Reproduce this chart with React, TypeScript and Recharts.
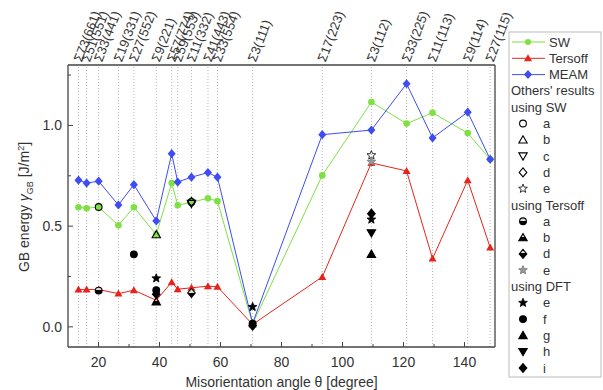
import React from 'react';
import { ComposedChart, Line, Scatter, XAxis, YAxis, ReferenceLine, Label } from 'recharts';

// GB misorientation angles (degree) and their CSL labels
const angles = [13.44, 16.1, 20.05, 26.53, 31.59, 38.94, 44.0, 45.98, 50.48, 55.88, 59.0, 70.53, 93.37, 109.47, 121.01, 129.52, 141.06, 148.41];
const gbLabels = ['Σ73(661)', 'Σ51(551)', 'Σ33(441)', 'Σ19(331)', 'Σ27(552)', 'Σ9(221)', 'Σ57(774)', 'Σ59(553)', 'Σ11(332)', 'Σ41(443)', 'Σ33(554)', 'Σ3(111)', 'Σ17(223)', 'Σ3(112)', 'Σ33(225)', 'Σ11(113)', 'Σ9(114)', 'Σ27(115)'];

// GB energies [J/m^2]
const swEnergy = [0.594, 0.589, 0.595, 0.504, 0.594, 0.458, 0.714, 0.604, 0.619, 0.638, 0.624, 0.015, 0.752, 1.116, 1.009, 1.063, 0.962, 0.832];
const tersoffEnergy = [0.185, 0.185, 0.185, 0.165, 0.182, 0.132, 0.222, 0.187, 0.194, 0.202, 0.199, 0.012, 0.248, 0.814, 0.774, 0.339, 0.728, 0.394];
const meamEnergy = [0.728, 0.714, 0.723, 0.605, 0.706, 0.526, 0.86, 0.719, 0.743, 0.766, 0.743, 0.018, 0.954, 0.977, 1.207, 0.938, 1.066, 0.832];

// others' results, [angle, energy]
const swA = [[20.05, 0.595], [50.48, 0.62]];
const swB = [[38.94, 0.458]];
const swC = [[50.48, 0.612]];
const swD = [[50.48, 0.62]];
const swE = [[109.47, 0.852]];
const terA = [[20.05, 0.18]];
const terB = [[38.94, 0.125]];
const terD = [[50.48, 0.168]];
const terE = [[109.47, 0.82]];
const dftE = [[38.94, 0.241], [70.53, 0.099], [109.47, 0.533]];
const dftF = [[31.59, 0.36], [38.94, 0.182], [70.53, 0.016]];
const dftG = [[109.47, 0.361]];
const dftH = [[109.47, 0.466]];
const dftI = [[38.94, 0.162], [70.53, 0.006], [109.47, 0.562]];

const xMajor = [20, 40, 60, 80, 100, 120, 140];
const xMinor = [30, 50, 70, 90, 110, 130];
const yMajor = [0, 0.5, 1.0];
const yMinor = [0.25, 0.75, 1.25];

const GREEN = '#7ee043';
const RED = '#e8231c';
const BLUE = '#3f4cf2';
const FONT = '"Liberation Sans", Arial, sans-serif';

const rows = angles.map((a, i) => ({ angle: a, sw: swEnergy[i], tersoff: tersoffEnergy[i], meam: meamEnergy[i] }));
const toPts = (arr) => arr.map(([a, v]) => ({ angle: a, val: v }));

const starPoints = (cx, cy, R, r) => {
  const pts = [];
  for (let k = 0; k < 10; k++) {
    const ang = -Math.PI / 2 + (k * Math.PI) / 5;
    const rad = k % 2 === 0 ? R : r;
    pts.push(`${(cx + rad * Math.cos(ang)).toFixed(2)},${(cy + rad * Math.sin(ang)).toFixed(2)}`);
  }
  return pts.join(' ');
};

// marker glyph used both in plot and legend
const Glyph = ({ cx, cy, kind, fill = '#000', stroke = '#000', half = false }) => {
  const f = half ? 'url(#halfFill)' : fill;
  const sw = 1.1;
  let el = null;
  if (kind === 'circle') el = <circle cx={cx} cy={cy} r={3.4} fill={f} stroke={stroke} strokeWidth={sw} />;
  if (kind === 'up') el = <polygon points={`${cx},${cy - 4} ${cx + 4.2},${cy + 3.2} ${cx - 4.2},${cy + 3.2}`} fill={f} stroke={stroke} strokeWidth={sw} />;
  if (kind === 'down') el = <polygon points={`${cx},${cy + 4} ${cx + 4.2},${cy - 3.2} ${cx - 4.2},${cy - 3.2}`} fill={f} stroke={stroke} strokeWidth={sw} />;
  if (kind === 'diamond') el = <polygon points={`${cx},${cy - 4.5} ${cx + 3.8},${cy} ${cx},${cy + 4.5} ${cx - 3.8},${cy}`} fill={f} stroke={stroke} strokeWidth={sw} />;
  if (kind === 'star') el = <polygon points={starPoints(cx, cy, 4.6, 2)} fill={f} stroke={stroke} strokeWidth={0.8} />;
  return (
    <g>
      <defs>
        <linearGradient id="halfFill" x1="0" y1="0" x2="0" y2="1">
          <stop offset="0.45" stopColor="#ddd" />
          <stop offset="0.45" stopColor="#000" />
        </linearGradient>
      </defs>
      {el}
    </g>
  );
};

const shape = (kind, opts = {}) => (p) => <Glyph cx={p.cx} cy={p.cy} kind={kind} {...opts} />;

const swDot = (p) => <circle key={p.key} cx={p.cx} cy={p.cy} r={3.3} fill={GREEN} />;
const terDot = (p) => (
  <polygon key={p.key} points={`${p.cx},${p.cy - 4} ${p.cx + 4},${p.cy + 3} ${p.cx - 4},${p.cy + 3}`} fill={RED} />
);
const meamDot = (p) => (
  <polygon key={p.key} points={`${p.cx},${p.cy - 4.6} ${p.cx + 4},${p.cy} ${p.cx},${p.cy + 4.6} ${p.cx - 4},${p.cy}`} fill={BLUE} />
);

const XTick = ({ x, y, payload }) => {
  const major = xMajor.includes(payload.value);
  return (
    <g>
      <line x1={x} x2={x} y1={y} y2={y - (major ? 5 : 3)} stroke="#444" />
      {major && (
        <text x={x} y={y + 20} textAnchor="middle" fontSize={14} fill="#333" fontFamily={FONT}>
          {payload.value}
        </text>
      )}
    </g>
  );
};

const YTick = ({ x, y, payload }) => {
  const major = yMajor.includes(payload.value);
  return (
    <g>
      <line x1={x} x2={x + (major ? 5 : 3)} y1={y} y2={y} stroke="#444" />
      {major && (
        <text x={x - 6} y={y} dy="0.35em" textAnchor="end" fontSize={14} fill="#333" fontFamily={FONT}>
          {payload.value.toFixed(1)}
        </text>
      )}
    </g>
  );
};

const TopTick = ({ x, y, payload }) => {
  const i = angles.indexOf(payload.value);
  const ax = x - 1;
  const ay = y - 4;
  return (
    <text x={ax} y={ay} dy="0.35em" transform={`rotate(-69 ${ax} ${ay})`} fontSize={13} fill="#333" fontFamily={FONT}>
      {gbLabels[i]}
    </text>
  );
};

const YTitle = () => (
  <text x={24} y={207} dy="0.35em" transform="rotate(-90 24 207)" textAnchor="middle" fontSize={14} fill="#333" fontFamily={FONT}>
    GB energy <tspan fontStyle="italic">γ</tspan>
    <tspan fontSize={9} dy={4}>GB</tspan>
    <tspan dy={-4}> [J/m</tspan>
    <tspan fontSize={9} dy={-5}>2</tspan>
    <tspan dy={5}>]</tspan>
  </text>
);

const legendLines = [
  { name: 'SW', color: GREEN, kind: 'circle' },
  { name: 'Tersoff', color: RED, kind: 'up' },
  { name: 'MEAM', color: BLUE, kind: 'diamond' },
];

const legendOthers = [
  { head: "Others' results" },
  { head: 'using SW' },
  { kind: 'circle', fill: 'none', label: 'a' },
  { kind: 'up', fill: 'none', label: 'b' },
  { kind: 'down', fill: 'none', label: 'c' },
  { kind: 'diamond', fill: 'none', label: 'd' },
  { kind: 'star', fill: 'none', label: 'e' },
  { head: 'using Tersoff' },
  { kind: 'circle', half: true, label: 'a' },
  { kind: 'up', half: true, label: 'b' },
  { kind: 'diamond', half: true, label: 'd' },
  { kind: 'star', fill: '#999', stroke: '#777', label: 'e' },
  { head: 'using DFT' },
  { kind: 'star', label: 'e' },
  { kind: 'circle', label: 'f' },
  { kind: 'up', label: 'g' },
  { kind: 'down', label: 'h' },
  { kind: 'diamond', label: 'i' },
];

const ChartLegend = () => {
  const step = 16.3;
  const y0 = 42;
  return (
    <svg width={603} height={390} style={{ position: 'absolute', left: 0, top: 0, pointerEvents: 'none' }} fontFamily={FONT}>
      <rect x={509} y={32} width={92} height={345} fill="#fff" stroke="#bbb" />
      {legendLines.map((l, i) => {
        const y = y0 + i * step;
        return (
          <g key={l.name}>
            <line x1={512} x2={545} y1={y} y2={y} stroke={l.color} />
            {l.kind === 'circle' && <circle cx={528} cy={y} r={3} fill={l.color} />}
            {l.kind === 'up' && <polygon points={`528,${y - 4} 532,${y + 3} 524,${y + 3}`} fill={l.color} />}
            {l.kind === 'diamond' && <polygon points={`528,${y - 4.5} 532,${y} 528,${y + 4.5} 524,${y}`} fill={l.color} />}
            <text x={549} y={y} dy="0.35em" fontSize={13} fill="#333">{l.name}</text>
          </g>
        );
      })}
      {legendOthers.map((o, i) => {
        const y = y0 + (i + 3) * step;
        if (o.head) {
          return (
            <text key={i} x={511} y={y} dy="0.35em" fontSize={13} fill="#333">{o.head}</text>
          );
        }
        return (
          <g key={i}>
            <Glyph cx={523} cy={y} kind={o.kind} fill={o.fill ?? '#000'} stroke={o.stroke ?? '#000'} half={o.half} />
            <text x={543} y={y} dy="0.35em" fontSize={13} fill="#333">{o.label}</text>
          </g>
        );
      })}
    </svg>
  );
};

const others = [
  { data: swA, kind: 'circle', opts: { fill: 'none' } },
  { data: swB, kind: 'up', opts: { fill: 'none' } },
  { data: swC, kind: 'down', opts: { fill: 'none' } },
  { data: swD, kind: 'diamond', opts: { fill: 'none' } },
  { data: swE, kind: 'star', opts: { fill: 'none' } },
  { data: terA, kind: 'circle', opts: { half: true } },
  { data: terB, kind: 'up', opts: { half: true } },
  { data: terD, kind: 'diamond', opts: { half: true } },
  { data: terE, kind: 'star', opts: { fill: '#999', stroke: '#777' } },
  { data: dftE, kind: 'star', opts: {} },
  { data: dftF, kind: 'circle', opts: {} },
  { data: dftG, kind: 'up', opts: {} },
  { data: dftH, kind: 'down', opts: {} },
  { data: dftI, kind: 'diamond', opts: {} },
];

const App = () => {
  return (
    <div style={{ position: 'absolute', left: 0, top: 0, width: 603, height: 390, background: '#fff', fontFamily: FONT }}>
      <ComposedChart width={603} height={390} data={rows} margin={{ top: 64, right: 107, bottom: 42, left: 67 }}>
        <XAxis
          dataKey="angle"
          type="number"
          domain={[10, 150]}
          ticks={[...xMajor, ...xMinor].sort((a, b) => a - b)}
          interval={0}
          height={1}
          tickSize={0}
          tickMargin={0}
          tickLine={false}
          tick={XTick}
          axisLine={{ stroke: '#444', strokeWidth: 1.3 }}
        >
          <Label value="Misorientation angle θ [degree]" position="bottom" offset={29} fontSize={14} fill="#333" fontFamily={FONT} />
        </XAxis>
        <XAxis
          xAxisId="top"
          orientation="top"
          dataKey="angle"
          type="number"
          domain={[10, 150]}
          ticks={angles}
          interval={0}
          height={1}
          tickSize={0}
          tickMargin={0}
          tickLine={false}
          tick={TopTick}
          axisLine={{ stroke: '#444', strokeWidth: 1.3 }}
        />
        <YAxis
          type="number"
          domain={[-0.1, 1.3]}
          ticks={[...yMajor, ...yMinor].sort((a, b) => a - b)}
          interval={0}
          width={1}
          tickSize={0}
          tickMargin={0}
          tickLine={false}
          tick={YTick}
          axisLine={{ stroke: '#444', strokeWidth: 1.3 }}
          label={<YTitle />}
        />
        <YAxis
          yAxisId="r"
          orientation="right"
          type="number"
          domain={[-0.1, 1.3]}
          width={1}
          tick={false}
          tickLine={false}
          axisLine={{ stroke: '#444', strokeWidth: 1.3 }}
        />
        {angles.map((a) => (
          <ReferenceLine key={a} x={a} stroke="#b5b5b5" strokeDasharray="1 2" />
        ))}
        <Line dataKey="sw" stroke={GREEN} strokeWidth={1} dot={swDot} isAnimationActive={false} />
        <Line dataKey="tersoff" stroke={RED} strokeWidth={1} dot={terDot} isAnimationActive={false} />
        <Line dataKey="meam" stroke={BLUE} strokeWidth={1} dot={meamDot} isAnimationActive={false} />
        {others.map((o, i) => (
          <Scatter key={i} data={toPts(o.data)} dataKey="val" shape={shape(o.kind, o.opts)} isAnimationActive={false} />
        ))}
      </ComposedChart>
      <ChartLegend />
    </div>
  );
};

export default App;
